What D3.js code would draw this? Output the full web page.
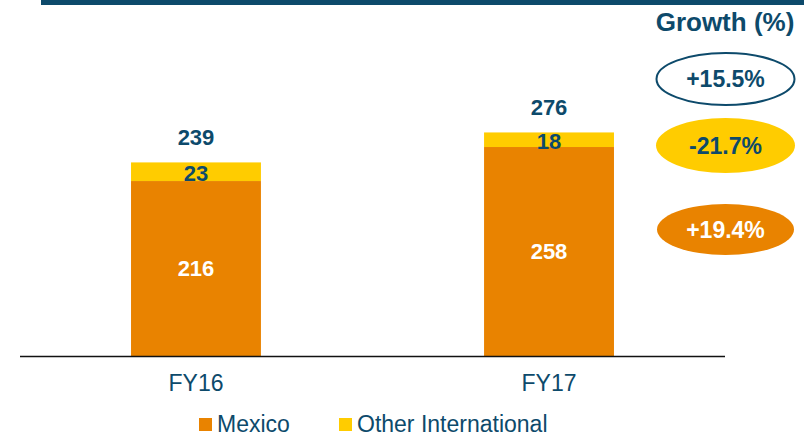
<!DOCTYPE html>
<html><head><meta charset="utf-8">
<script src="https://cdn.jsdelivr.net/npm/d3@7"></script>
<style>body{margin:0;background:#fff;}svg{display:block;font-family:"Liberation Sans",Arial,sans-serif;}</style>
</head><body>
<script>
const categories = ["FY16", "FY17"];
const mexico = [216, 258];
const otherIntl = [23, 18];
const totals = [239, 276];
const growthLabels = ["+15.5%", "-21.7%", "+19.4%"];
const seriesNames = ["Mexico", "Other International"];

const W = 804, H = 436;
const navy = "#0d4a6b", orange = "#e98300", yellow = "#ffcc00";
const svg = d3.select("body").append("svg").attr("width", W).attr("height", H);

// top rule
svg.append("rect").attr("x", 41).attr("y", 0).attr("width", W - 41).attr("height", 5).attr("fill", navy);

const x = d3.scaleBand().domain(categories).range([20, 725]).paddingInner(0.632).paddingOuter(0.3145);
const y = d3.scaleLinear().domain([0, 300]).range([356, 113]);

const data = categories.map((c, i) => ({c, m: mexico[i], o: otherIntl[i], t: totals[i]}));
const stack = d3.stack().keys(["m", "o"])(data);
const colors = [orange, yellow];

stack.forEach((layer, li) => {
  svg.append("g").selectAll("rect").data(layer).join("rect")
    .attr("x", d => x(d.data.c)).attr("width", x.bandwidth())
    .attr("y", d => y(d[1])).attr("height", d => y(d[0]) - y(d[1]))
    .attr("fill", colors[li]);
});

// axis
const axis = svg.append("g").attr("transform", `translate(0,${y(0)})`)
  .call(d3.axisBottom(x).tickSize(0).tickPadding(19));
axis.select(".domain").attr("stroke", "#111").attr("stroke-width", 1.5).attr("d", `M20,0.5H725`);
axis.selectAll("text").attr("font-size", 23).attr("fill", navy).attr("font-family", "Liberation Sans, Arial, sans-serif")
  .attr("dy", "0.36em").attr("y", 27);

// labels
data.forEach(d => {
  const cx = x(d.c) + x.bandwidth() / 2;
  svg.append("text").attr("x", cx).attr("y", (y(0) + y(d.m)) / 2).attr("dy", "0.36em")
    .attr("text-anchor", "middle").attr("font-size", 22).attr("font-weight", "bold").attr("fill", "#fff").text(d.m);
  svg.append("text").attr("x", cx).attr("y", (y(d.m) + y(d.t)) / 2 + 1).attr("dy", "0.36em")
    .attr("text-anchor", "middle").attr("font-size", 22).attr("font-weight", "bold").attr("fill", navy).text(d.o);
  svg.append("text").attr("x", cx).attr("y", y(d.t) - 25).attr("dy", "0.36em")
    .attr("text-anchor", "middle").attr("font-size", 22).attr("font-weight", "bold").attr("fill", navy).text(d.t);
});

// growth panel
svg.append("text").attr("x", 725).attr("y", 31).attr("text-anchor", "middle")
  .attr("font-size", 26).attr("font-weight", "bold").attr("fill", navy).text("Growth (%)");
const ell = [
  {cy: 79, rx: 69, ry: 26, fill: "#fff", stroke: navy, tc: navy},
  {cy: 145.5, rx: 69.5, ry: 27.5, fill: yellow, stroke: "none", tc: navy},
  {cy: 229.5, rx: 68.5, ry: 25.5, fill: orange, stroke: "none", tc: "#fff"}
];
ell.forEach((e, i) => {
  svg.append("ellipse").attr("cx", 725.5).attr("cy", e.cy).attr("rx", e.rx).attr("ry", e.ry)
    .attr("fill", e.fill).attr("stroke", e.stroke).attr("stroke-width", 2);
  svg.append("text").attr("x", 725.5).attr("y", e.cy).attr("dy", "0.36em").attr("text-anchor", "middle")
    .attr("font-size", 23).attr("font-weight", "bold").attr("fill", e.tc).text(growthLabels[i]);
});

// legend
const leg = [{x: 199, c: orange}, {x: 339, c: yellow}];
leg.forEach((l, i) => {
  svg.append("rect").attr("x", l.x).attr("y", 418).attr("width", 13).attr("height", 13).attr("fill", l.c);
  svg.append("text").attr("x", l.x + 18).attr("y", 424).attr("dy", "0.36em")
    .attr("font-size", 23).attr("fill", navy).text(seriesNames[i]);
});
</script>
</body></html>
